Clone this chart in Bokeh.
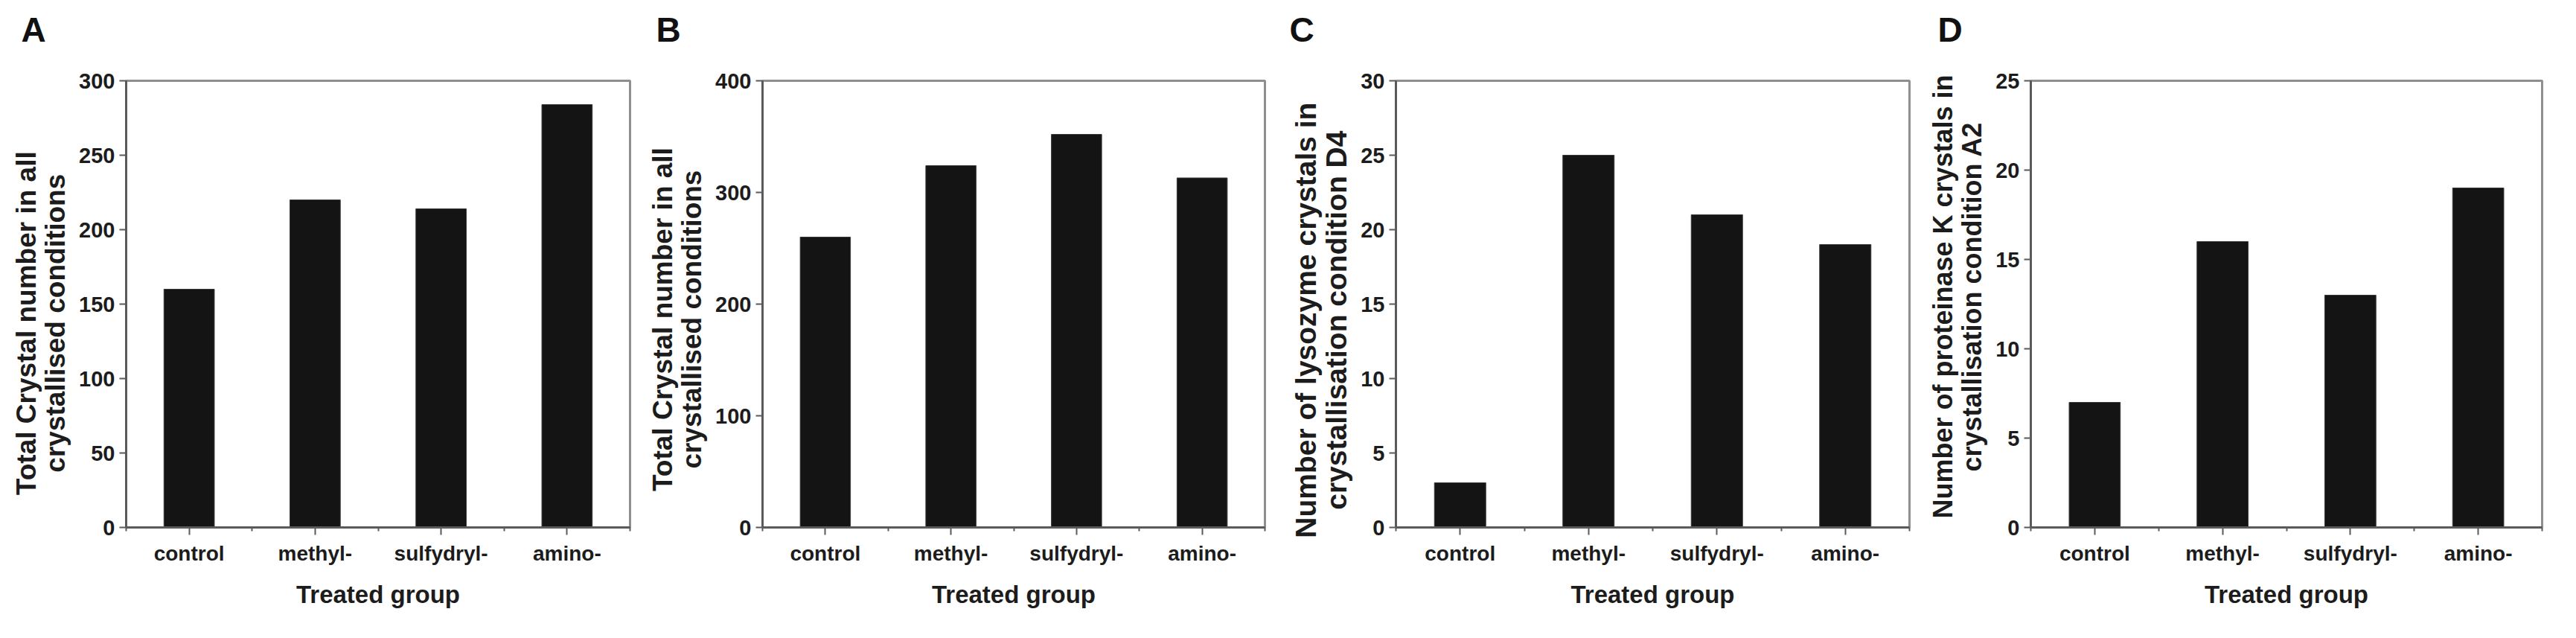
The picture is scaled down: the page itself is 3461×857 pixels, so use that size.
import numpy as np
from bokeh.plotting import figure
from bokeh.layouts import row, column
from bokeh.models import Range1d, FixedTicker
from bokeh.embed import file_html
from bokeh.resources import INLINE

# ---------------- data ----------------
categories = ["control", "methyl-", "sulfydryl-", "amino-"]
values_a = [160, 220, 214, 284]
values_b = [260, 324, 352, 313]
values_c = [3, 25, 21, 19]
values_d = [7, 16, 13, 19]
yticks_a = [0, 50, 100, 150, 200, 250, 300]
yticks_b = [0, 100, 200, 300, 400]
yticks_c = [0, 5, 10, 15, 20, 25, 30]
yticks_d = [0, 5, 10, 15, 20, 25]
ylabel_ab = ["Total Crystal number in all", "crystallised conditions"]
ylabel_c = ["Number of lysozyme crystals in", "crystallisation condition D4"]
ylabel_d = ["Number of proteinase K crystals in", "crystallisation condition A2"]
xlabel = "Treated group"
letters = ["A", "B", "C", "D"]

# ---------------- styling / layout ----------------
FONT = "Liberation Sans"
TXT = "#1c1c1c"
AX = "#5a5a5a"
NBSP = "\u00a0"
LETTER_H = 90          # height of the strip that carries the panel letters
LETTER_SIZE = 46
LETTER_STANDOFF = 26

# ylab_pad: >0 pads the end of each title line (moves it down), <0 pads the start (moves it up)
panels = [
    dict(letter=letters[0], values=values_a, ticks=yticks_a, ylabel=ylabel_ab,
         left=169, fw=677, right=16, top=96, fh=612, bottom=133,
         ylab_size=37, ylab_pad=5, let_dx=-141),
    dict(letter=letters[1], values=values_b, ticks=yticks_b, ylabel=ylabel_ab,
         left=162, fw=675, right=18, top=101, fh=611, bottom=129,
         ylab_size=37, ylab_pad=4, let_dx=-143),
    dict(letter=letters[2], values=values_c, ticks=yticks_c, ylabel=ylabel_c,
         left=158, fw=690, right=17, top=100, fh=613, bottom=128,
         ylab_size=39, ylab_pad=4, let_dx=-143),
    dict(letter=letters[3], values=values_d, ticks=yticks_d, ylabel=ylabel_d,
         left=146, fw=687, right=22, top=108, fh=604, bottom=129,
         ylab_size=36, ylab_pad=-2, let_dx=-125),
]

n = len(categories)
centers = [i + 0.5 for i in range(n)]
bounds = [float(i) for i in range(n + 1)]


def pad_lines(lines, k):
    if k >= 0:
        return "\n".join(l + NBSP * k for l in lines)
    return "\n".join(NBSP * (-k) + l for l in lines)


letter_figs = []
figs = []
for spec in panels:
    W = spec["left"] + spec["fw"] + spec["right"]
    H = spec["top"] - LETTER_H + spec["fh"] + spec["bottom"]
    y0, y1 = spec["ticks"][0], spec["ticks"][-1]

    # --- strip carrying the panel letter ---
    lf = figure(width=W, height=LETTER_H, output_backend="svg", toolbar_location=None,
                x_range=Range1d(0, 1), y_range=Range1d(0, 1),
                x_axis_type=None, y_axis_type=None,
                min_border_left=spec["left"], min_border_right=spec["right"],
                min_border_top=0, min_border_bottom=0)
    lf.outline_line_color = None
    lf.grid.visible = False
    lf.background_fill_color = "white"
    lf.border_fill_color = "white"
    lf.title.text = spec["letter"]
    lf.title.align = "left"
    lf.title.offset = spec["let_dx"]
    lf.title.vertical_align = "top"
    lf.title.standoff = LETTER_STANDOFF
    lf.title.text_font = FONT
    lf.title.text_font_style = "bold"
    lf.title.text_font_size = f"{LETTER_SIZE}px"
    lf.title.text_color = "#111111"
    letter_figs.append(lf)

    # --- bar chart ---
    p = figure(width=W, height=H, output_backend="svg", toolbar_location=None,
               x_range=Range1d(0, n), y_range=Range1d(y0, y1),
               min_border_left=spec["left"], min_border_right=spec["right"],
               min_border_top=spec["top"] - LETTER_H, min_border_bottom=spec["bottom"])
    p.background_fill_color = "white"
    p.border_fill_color = "white"
    p.outline_line_color = "#8f8f8f"
    p.outline_line_width = 3
    p.grid.visible = False

    p.vbar(x=centers, top=spec["values"], bottom=0, width=0.4,
           fill_color="#141414", line_color="#3a3a3a", line_width=1)

    # x axis
    xa = p.xaxis[0]
    xa.ticker = FixedTicker(ticks=centers, minor_ticks=bounds)
    xa.major_label_overrides = {c: lab for c, lab in zip(centers, categories)}
    xa.axis_label = xlabel
    xa.axis_label_text_font = FONT
    xa.axis_label_text_font_style = "bold"
    xa.axis_label_text_font_size = "33px"
    xa.axis_label_text_color = TXT
    xa.axis_label_standoff = 18
    xa.major_label_text_font = FONT
    xa.major_label_text_font_style = "bold"
    xa.major_label_text_font_size = "28px"
    xa.major_label_text_color = TXT
    xa.major_label_standoff = 9
    xa.axis_line_color = AX
    xa.axis_line_width = 3
    xa.major_tick_line_color = AX
    xa.major_tick_line_width = 2
    xa.major_tick_in = 0
    xa.major_tick_out = 10
    xa.minor_tick_line_color = AX
    xa.minor_tick_line_width = 2
    xa.minor_tick_in = 0
    xa.minor_tick_out = 5

    # y axis
    ya = p.yaxis[0]
    ya.ticker = FixedTicker(ticks=spec["ticks"])
    ya.major_label_text_font = FONT
    ya.major_label_text_font_style = "bold"
    ya.major_label_text_font_size = "29px"
    ya.major_label_text_color = TXT
    ya.major_label_standoff = 6
    ya.axis_line_color = AX
    ya.axis_line_width = 3
    ya.major_tick_line_color = AX
    ya.major_tick_line_width = 2
    ya.major_tick_in = 0
    ya.major_tick_out = 9
    ya.minor_tick_line_color = None
    ya.axis_label = pad_lines(spec["ylabel"], spec["ylab_pad"])
    ya.axis_label_text_font = FONT
    ya.axis_label_text_font_style = "bold"
    ya.axis_label_text_font_size = f"{spec['ylab_size']}px"
    ya.axis_label_text_color = TXT
    ya.axis_label_text_line_height = 0.95
    ya.axis_label_standoff = 8

    figs.append(p)

layout = column(row(*letter_figs), row(*figs))
open("out.html", "w").write(file_html(layout, INLINE))
